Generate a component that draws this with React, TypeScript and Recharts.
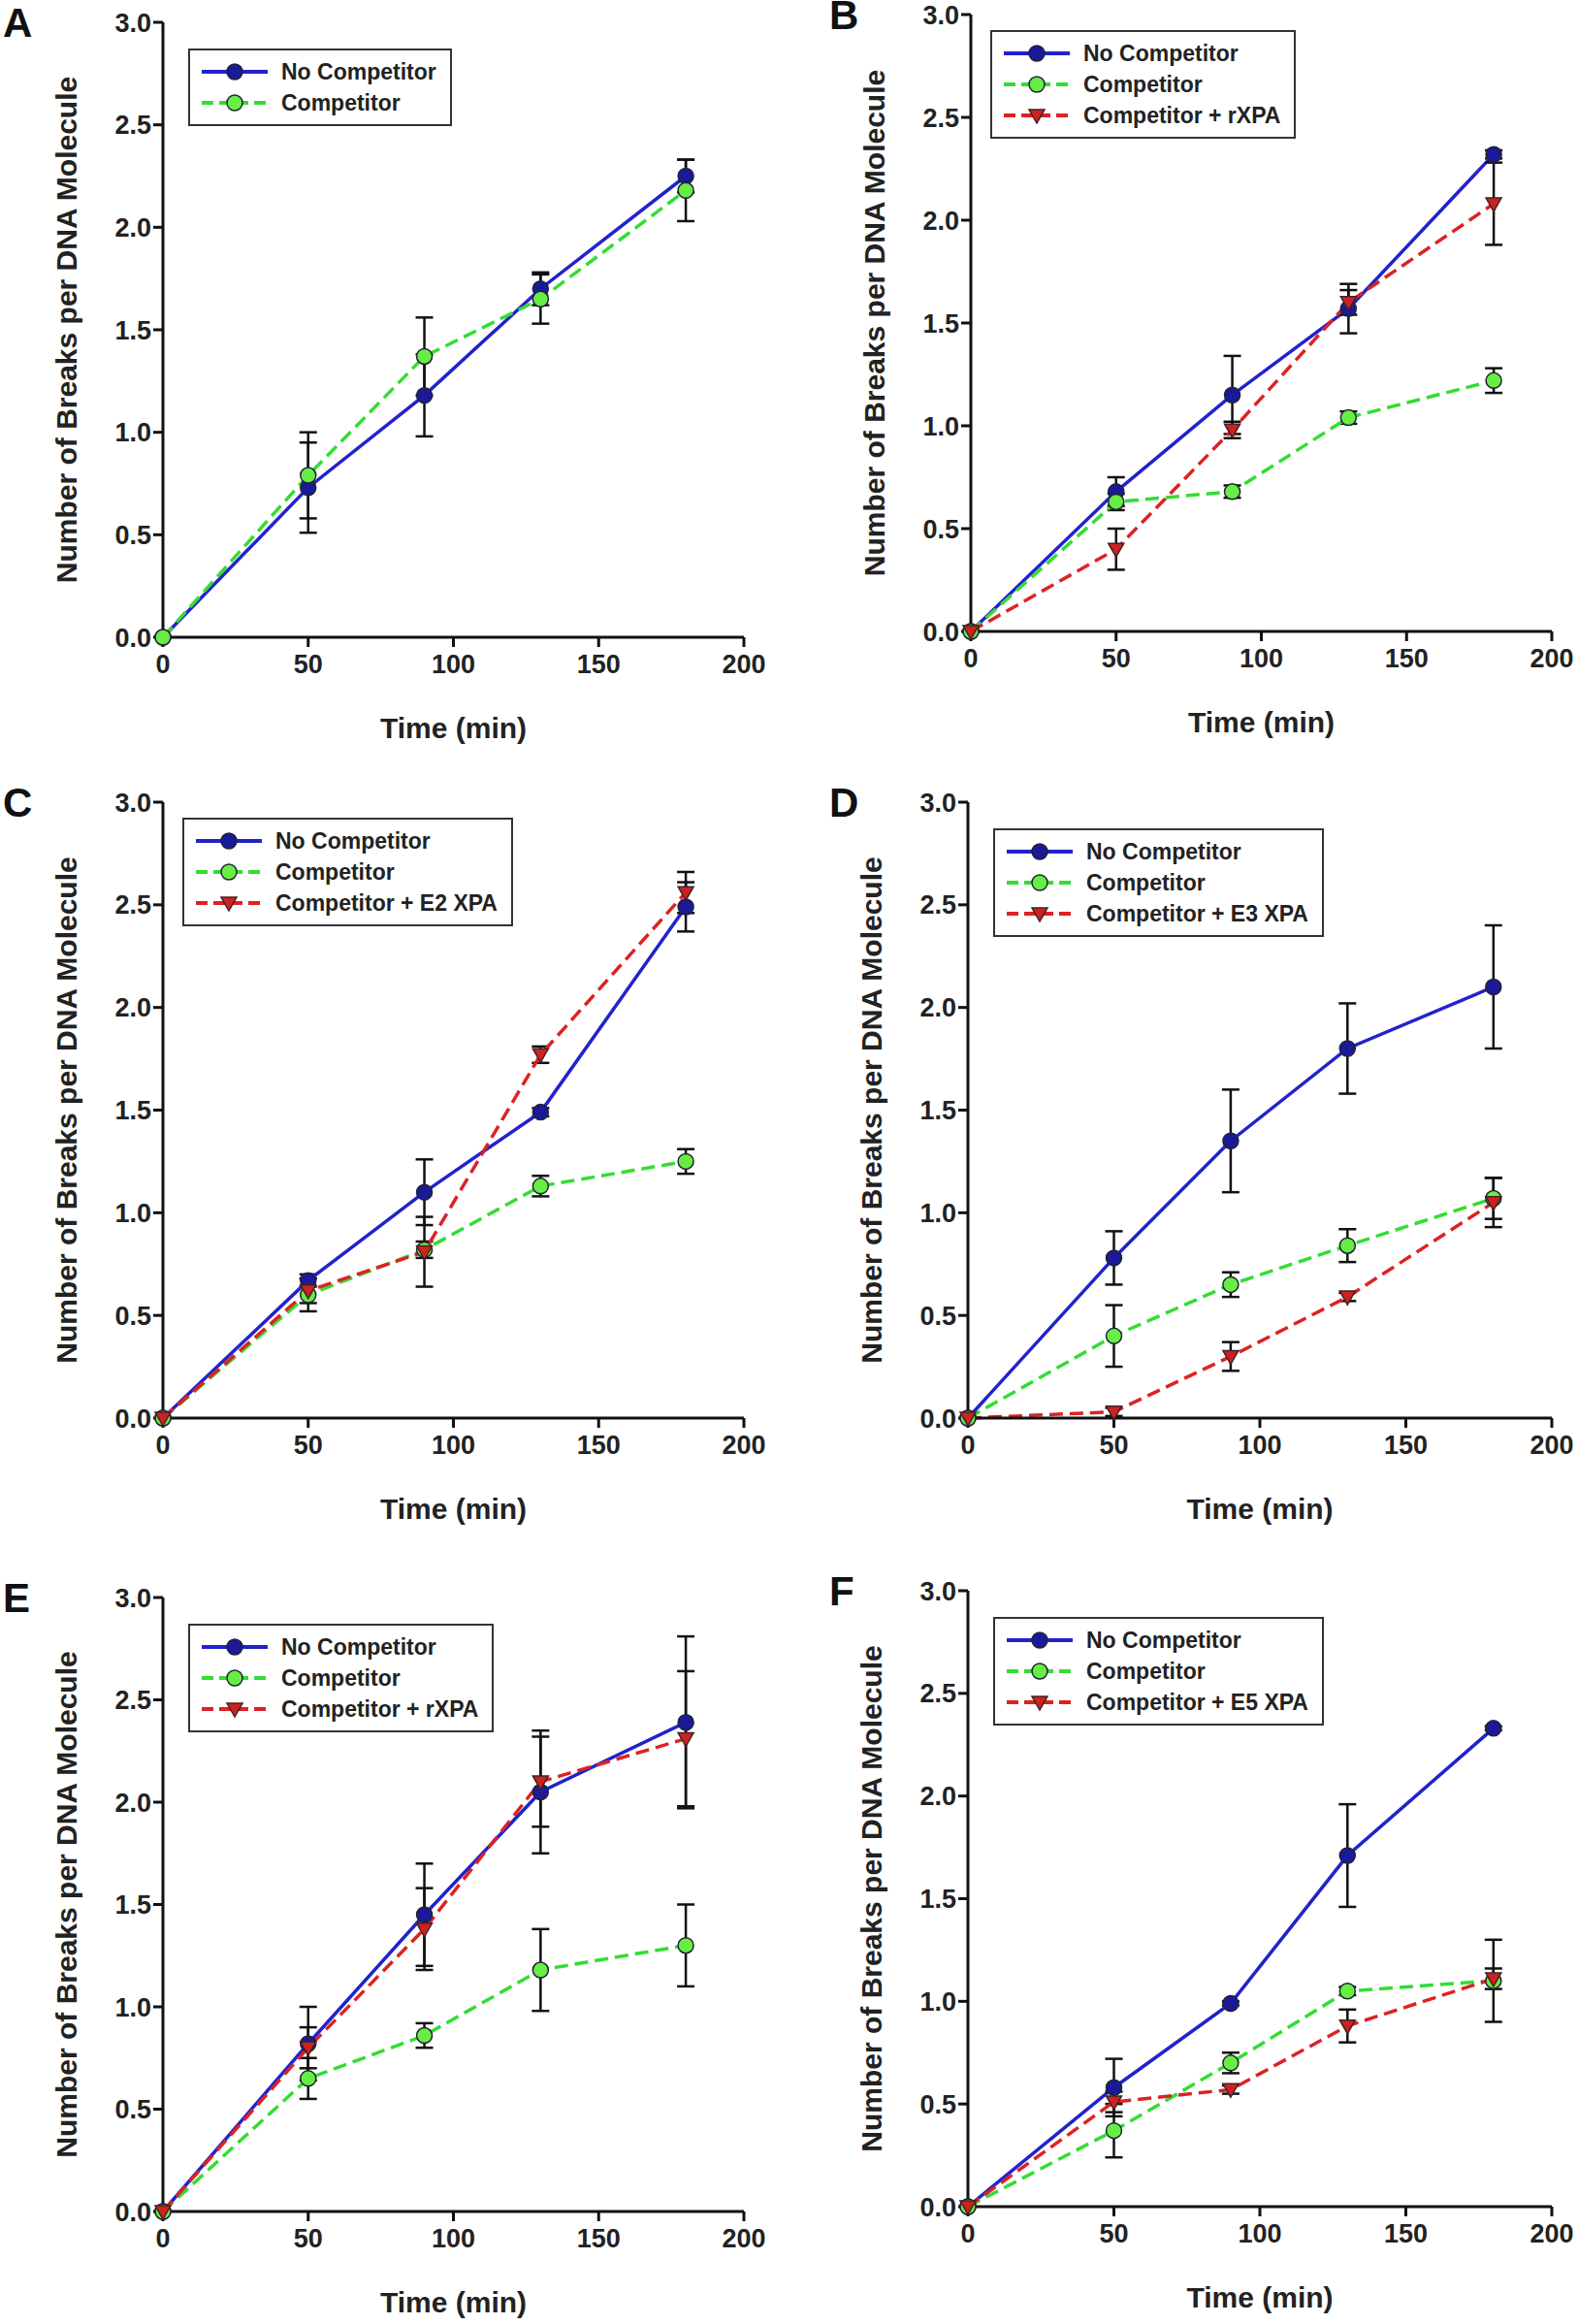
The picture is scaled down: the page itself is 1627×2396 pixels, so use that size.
import React from "react";
import {
  LineChart, Line, XAxis, YAxis, ErrorBar, Label,
} from "recharts";

const times = [0, 50, 90, 130, 180];
const xTicks = [0, 50, 100, 150, 200];
const yTicks = [0, 0.5, 1, 1.5, 2, 2.5, 3];

const aNo = [0, 0.73, 1.18, 1.7, 2.25];
const aNoErr = [0, 0.22, 0.2, 0.08, 0.08];
const aComp = [0, 0.79, 1.37, 1.65, 2.18];
const aCompErr = [0, 0.21, 0.19, 0.12, 0.15];

const bNo = [0, 0.68, 1.15, 1.57, 2.32];
const bNoErr = [0, 0.07, 0.19, 0.12, 0.02];
const bComp = [0, 0.63, 0.68, 1.04, 1.22];
const bCompErr = [0, 0.04, 0.03, 0.03, 0.06];
const bRed = [0, 0.4, 0.98, 1.6, 2.08];
const bRedErr = [0, 0.1, 0.04, 0.06, 0.2];

const cNo = [0, 0.67, 1.1, 1.49, 2.49];
const cNoErr = [0, 0.03, 0.16, 0.02, 0.12];
const cComp = [0, 0.6, 0.82, 1.13, 1.25];
const cCompErr = [0, 0.08, 0.04, 0.05, 0.06];
const cRed = [0, 0.62, 0.81, 1.77, 2.56];
const cRedErr = [0, 0.06, 0.17, 0.04, 0.1];

const dNo = [0, 0.78, 1.35, 1.8, 2.1];
const dNoErr = [0, 0.13, 0.25, 0.22, 0.3];
const dComp = [0, 0.4, 0.65, 0.84, 1.07];
const dCompErr = [0, 0.15, 0.06, 0.08, 0.1];
const dRed = [0, 0.03, 0.3, 0.59, 1.05];
const dRedErr = [0, 0.02, 0.07, 0.02, 0.12];

const eNo = [0, 0.82, 1.45, 2.05, 2.39];
const eNoErr = [0, 0.18, 0.25, 0.3, 0.42];
const eComp = [0, 0.65, 0.86, 1.18, 1.3];
const eCompErr = [0, 0.1, 0.06, 0.2, 0.2];
const eRed = [0, 0.8, 1.38, 2.1, 2.31];
const eRedErr = [0, 0.1, 0.2, 0.22, 0.33];

const fNo = [0, 0.58, 0.99, 1.71, 2.33];
const fNoErr = [0, 0.14, 0.01, 0.25, 0.01];
const fComp = [0, 0.37, 0.7, 1.05, 1.1];
const fCompErr = [0, 0.13, 0.05, 0.02, 0.2];
const fRed = [0, 0.51, 0.57, 0.88, 1.11];
const fRedErr = [0, 0.05, 0.02, 0.08, 0.05];

const BLUE = "#2222cc";
const GREEN = "#33dd33";
const RED = "#dd2222";
const FONT = "'Liberation Sans', Arial, sans-serif";

function rows(no: number[], noErr: number[], comp: number[], compErr: number[], red?: number[], redErr?: number[]) {
  return times.map((t, i) => ({
    t, no: no[i], noErr: noErr[i], comp: comp[i], compErr: compErr[i],
    red: red ? red[i] : undefined, redErr: redErr ? redErr[i] : undefined,
  }));
}

const Circle = (fill: string) => (p: any) =>
  p.cx == null ? null : <circle key={p.key} cx={p.cx} cy={p.cy} r={8} fill={fill} stroke="#223" strokeWidth={1.5} />;

const Tri = (p: any) =>
  p.cx == null ? null : (
    <path key={p.key} d={`M${p.cx - 8},${p.cy - 6} L${p.cx + 8},${p.cy - 6} L${p.cx},${p.cy + 8} Z`} fill="#cc2222" stroke="#422" strokeWidth={1.5} />
  );

function LegendBox({ redName }: { redName?: string }) {
  const items = [
    { name: "No Competitor", color: BLUE, dash: false, mark: "c", fill: "#1a1a99" },
    { name: "Competitor", color: GREEN, dash: true, mark: "c", fill: "#66ee44" },
  ];
  if (redName) items.push({ name: redName, color: RED, dash: true, mark: "t", fill: "#cc2222" });
  return (
    <div style={{ border: "2px solid #333", background: "#fff", padding: "6px 14px 6px 10px", fontFamily: FONT, fontWeight: "bold", fontSize: 23, color: "#222" }}>
      {items.map((it) => (
        <div key={it.name} style={{ display: "flex", alignItems: "center", height: 32 }}>
          <svg width={72} height={24} style={{ marginRight: 12 }}>
            <line x1={2} y1={12} x2={70} y2={12} stroke={it.color} strokeWidth={4} strokeDasharray={it.dash ? "12 6" : undefined} />
            {it.mark === "c" ? (
              <circle cx={36} cy={12} r={8} fill={it.fill} stroke="#223" strokeWidth={1.5} />
            ) : (
              <path d="M28,6 L44,6 L36,20 Z" fill={it.fill} stroke="#422" strokeWidth={1.5} />
            )}
          </svg>
          {it.name}
        </div>
      ))}
    </div>
  );
}

const CW = 800;
const CH = 800;
const ML = 60;
const YW = 108;

function Panel({ letter, letterX, x, y, w, h, data, redName, legendX, legendY }: any) {
  const top = 30;
  const right = CW - ML - YW - w;
  const bottom = CH - top - h - 110;
  const left0 = x - ML - YW;
  const tick = { fill: "#222", fontSize: 27, fontWeight: "bold", fontFamily: FONT };
  return (
    <div style={{ position: "absolute", left: left0, top: y - top, width: CW, height: CH }}>
      <div style={{ position: "absolute", left: letterX - left0, top: 10, fontFamily: FONT, fontWeight: "bold", fontSize: 42, color: "#111", lineHeight: 1 }}>{letter}</div>
      <LineChart width={CW} height={CH} data={data} margin={{ top, right, bottom, left: ML }}>
        <XAxis dataKey="t" type="number" domain={[0, 200]} ticks={xTicks} tick={tick} height={110}
          stroke="#111" strokeWidth={3} tickSize={10} tickMargin={8}>
          <Label position="insideBottom" offset={6} value="Time (min)" style={{ fontSize: 30, fontWeight: "bold", fill: "#222", fontFamily: FONT }} />
        </XAxis>
        <YAxis type="number" domain={[0, 3]} ticks={yTicks} tick={tick} width={YW} stroke="#111" strokeWidth={3}
          tickSize={10} tickFormatter={(v: number) => v.toFixed(1)}>
          <Label content={({ viewBox }: any) => (
            <text x={viewBox.x + 8} y={viewBox.y + viewBox.height / 2} transform={`rotate(-90 ${viewBox.x + 8} ${viewBox.y + viewBox.height / 2})`}
              textAnchor="middle" dominantBaseline="central" style={{ fontSize: 30, fontWeight: "bold", fill: "#222", fontFamily: FONT }}>
              Number of Breaks per DNA Molecule
            </text>
          )} />
        </YAxis>
        <XAxis xAxisId="top" orientation="top" dataKey="t" type="number" domain={[0, 200]} tick={false} tickLine={false} stroke="#111" strokeWidth={3} height={0} />
        <YAxis yAxisId="right" orientation="right" domain={[0, 3]} tick={false} tickLine={false} stroke="#111" strokeWidth={3} width={0} />
        <Line dataKey="no" stroke={BLUE} strokeWidth={3.5} dot={Circle("#1a1a99")} isAnimationActive={false}>
          <ErrorBar dataKey="noErr" stroke="#111" strokeWidth={2.5} width={9} />
        </Line>
        <Line dataKey="comp" stroke={GREEN} strokeWidth={3.5} strokeDasharray="14 7" dot={Circle("#66ee44")} isAnimationActive={false}>
          <ErrorBar dataKey="compErr" stroke="#111" strokeWidth={2.5} width={9} />
        </Line>
        {redName && (
          <Line dataKey="red" stroke={RED} strokeWidth={3.5} strokeDasharray="14 7" dot={Tri} isAnimationActive={false}>
            <ErrorBar dataKey="redErr" stroke="#111" strokeWidth={2.5} width={9} />
          </Line>
        )}
      </LineChart>
      <div style={{ position: "absolute", left: ML + YW + legendX, top: top + legendY }}>
        <LegendBox redName={redName} />
      </div>
    </div>
  );
}

export default function App() {
  return (
    <div style={{ position: "absolute", left: 0, top: 0, width: 1627, height: 2396, background: "#fff" }}>
      <Panel letter="A" letterX={3} x={168} y={23} w={599} h={634}
        data={rows(aNo, aNoErr, aComp, aCompErr)} legendX={26} legendY={27} />
      <Panel letter="B" letterX={855} x={1001} y={15} w={599} h={636}
        data={rows(bNo, bNoErr, bComp, bCompErr, bRed, bRedErr)} redName="Competitor + rXPA" legendX={20} legendY={16} />
      <Panel letter="C" letterX={3} x={168} y={827} w={599} h={635}
        data={rows(cNo, cNoErr, cComp, cCompErr, cRed, cRedErr)} redName="Competitor + E2 XPA" legendX={20} legendY={16} />
      <Panel letter="D" letterX={855} x={998} y={827} w={602} h={635}
        data={rows(dNo, dNoErr, dComp, dCompErr, dRed, dRedErr)} redName="Competitor + E3 XPA" legendX={26} legendY={27} />
      <Panel letter="E" letterX={3} x={168} y={1647} w={599} h={633}
        data={rows(eNo, eNoErr, eComp, eCompErr, eRed, eRedErr)} redName="Competitor + rXPA" legendX={26} legendY={27} />
      <Panel letter="F" letterX={855} x={998} y={1640} w={602} h={635}
        data={rows(fNo, fNoErr, fComp, fCompErr, fRed, fRedErr)} redName="Competitor + E5 XPA" legendX={26} legendY={27} />
    </div>
  );
}
